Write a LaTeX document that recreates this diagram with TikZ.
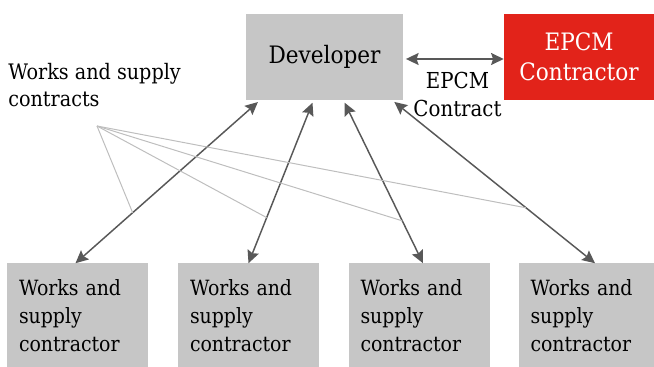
\documentclass[tikz,border=0pt]{standalone}
\usepackage{fontspec}
\setmainfont{DejaVu Serif Condensed}
\usepackage{tikz}
\usetikzlibrary{arrows.meta, positioning, calc}
\definecolor{boxgray}{HTML}{C6C6C6}
\definecolor{epcmred}{HTML}{E2231A}
\definecolor{arrowgray}{HTML}{585858}
\definecolor{linegray}{HTML}{BEBEBE}

\begin{document}
\begin{tikzpicture}[
    x=0.75pt, y=-0.75pt,
    >={Stealth[length=9.5pt, width=9pt, inset=1.5pt]},
    topbox/.style={fill=#1, minimum width=117.75pt, minimum height=64.5pt, inner sep=0pt, align=center, font=\fontsize{18}{22.5}\selectfont},
    wsbox/.style={fill=boxgray, minimum width=105.75pt, minimum height=78.75pt, text width=87.75pt, inner xsep=9pt, align=left, font=\fontsize{15.75}{21}\selectfont},
    link/.style={<->, arrowgray, line width=1.1pt},
    thin/.style={linegray, line width=0.75pt},
]
    \useasboundingbox (0,0) rectangle (654,367);

    % Developer and EPCM contractor
    \node[topbox=boxgray] (dev) at (324.5,57) {Developer};
    \node[topbox=epcmred, text=white, minimum width=112.5pt] (epcm) at (579,57) {EPCM\\Contractor};

    \draw[link, shorten <=2pt] ($(dev.east)+(0,2)$) -- node[below=6pt, xshift=3pt, text=black, align=center, font=\fontsize{16.5}{21}\selectfont] (epcmlbl) {EPCM\\Contract} ($(epcm.west)+(0,2)$);

    % Works and supply contractors
    \node[wsbox] (ws1) at (77.5,316) {Works and\\supply\\contractor};
    \node[wsbox] (ws2) at (248.5,316) {Works and\\supply\\contractor};
    \node[wsbox] (ws3) at (419,316) {Works and\\supply\\contractor};
    \node[wsbox] (ws4) at (589,316) {Works and\\supply\\contractor};

    % Contracts between developer and contractors
    \draw[link, shorten >=2pt] ($(ws1.north)+(-2,0)$) -- coordinate[pos=0.31] (c1) ($(dev.south west)!0.09!(dev.south east)$);
    \draw[link, shorten >=2pt] (ws2.north) -- coordinate[pos=0.28] (c2) ($(dev.south west)!0.43!(dev.south east)$);
    \draw[link, shorten >=2pt] ($(ws3.north)+(4,0)$) -- coordinate[pos=0.26] (c3) ($(dev.south west)!0.62!(dev.south east)$);
    \draw[link, shorten >=2pt] ($(ws4.north)+(6,0)$) -- coordinate[pos=0.34] (c4) ($(dev.south west)!0.93!(dev.south east)$);

    % Label for the works and supply contracts
    \node[anchor=north west, inner sep=0pt, align=left, font=\fontsize{16}{20.25}\selectfont] (wslbl) at (8,63) {Works and supply\\contracts};
    \coordinate (fan) at (97,126);
    \foreach \i in {1,...,4}
        \draw[thin] (fan) -- (c\i);
\end{tikzpicture}
\end{document}
